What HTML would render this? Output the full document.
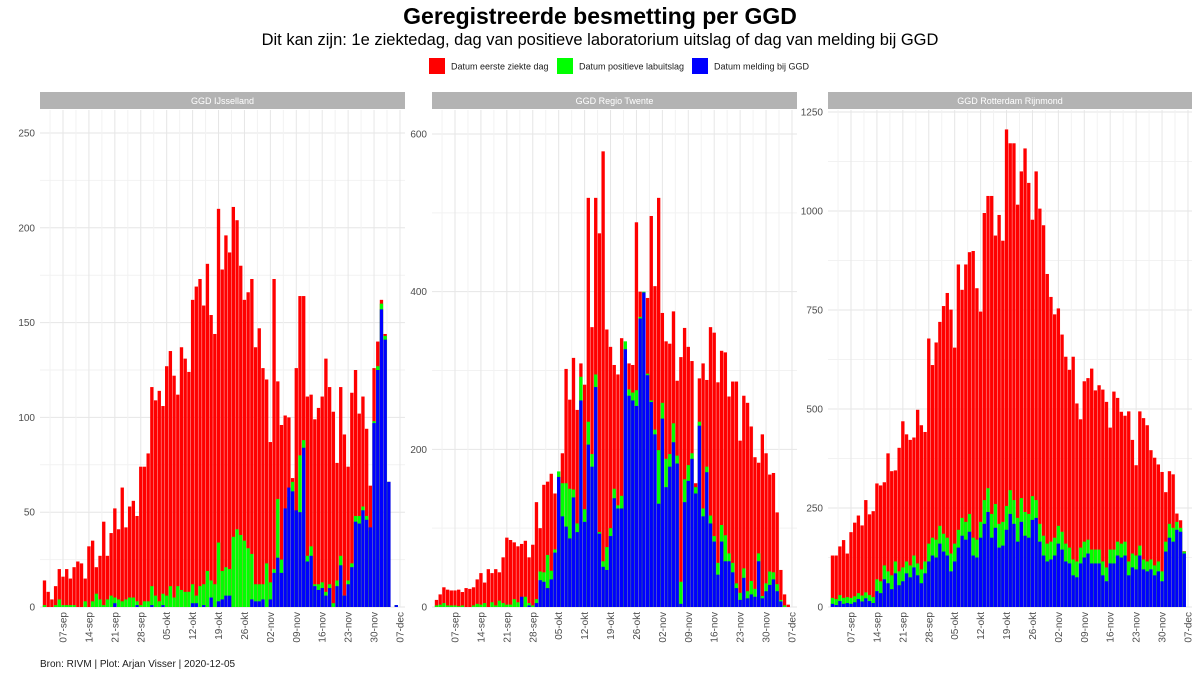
<!DOCTYPE html>
<html><head><meta charset="utf-8">
<style>
html,body{margin:0;padding:0;background:#fff;}
svg{display:block;font-family:"Liberation Sans",Arial,sans-serif;}
</style></head>
<body>
<svg id="chart" width="1200" height="675" viewBox="0 0 1200 675" xmlns="http://www.w3.org/2000/svg">
<rect x="0" y="0" width="1200" height="675" fill="#fff"/>
<text x="600" y="24" text-anchor="middle" font-size="23" font-weight="bold" fill="#000">Geregistreerde besmetting per GGD</text>
<text x="600" y="45" text-anchor="middle" font-size="16.5" fill="#000">Dit kan zijn: 1e ziektedag, dag van positieve laboratorium uitslag of dag van melding bij GGD</text>
<g>
<g><rect x="429" y="58" width="16" height="16" fill="#ff0000"/><text x="451" y="69.5" font-size="9" fill="#1a1a1a">Datum eerste ziekte dag</text></g>
<g><rect x="557" y="58" width="16" height="16" fill="#00ff00"/><text x="579" y="69.5" font-size="9" fill="#1a1a1a">Datum positieve labuitslag</text></g>
<g><rect x="692" y="58" width="16" height="16" fill="#0000ff"/><text x="714" y="69.5" font-size="9" fill="#1a1a1a">Datum melding bij GGD</text></g>
</g>
<text x="40" y="667" font-size="10" fill="#1a1a1a">Bron: RIVM | Plot: Arjan Visser | 2020-12-05</text>
<g id="panels"></g>
</svg>
<script>
// categories: dates 2020-09-02 .. 2020-12-06 (96 days)
var startDate = new Date(Date.UTC(2020, 8, 2));
var categories = [];
for (var k = 0; k < 96; k++) { var d = new Date(startDate.getTime() + k * 86400000); categories.push(d.toISOString().slice(0, 10)); }
var tickLabels = ['07-sep','14-sep','21-sep','28-sep','05-okt','12-okt','19-okt','26-okt','02-nov','09-nov','16-nov','23-nov','30-nov','07-dec'];
var tickDates = ['2020-09-07','2020-09-14','2020-09-21','2020-09-28','2020-10-05','2020-10-12','2020-10-19','2020-10-26','2020-11-02','2020-11-09','2020-11-16','2020-11-23','2020-11-30','2020-12-07'];
var panelNames = ['GGD IJsselland','GGD Regio Twente','GGD Rotterdam Rijnmond'];

var ijsRed = [14,8,4,11,20,16,20,15,21,24,23,15,32,35,21,27,45,27,39,52,41,63,42,53,56,48,74,74,81,116,109,114,106,127,135,122,112,137,131,124,162,169,173,159,181,154,144,
210,178,196,187,211,204,180,162,166,173,137,147,126,120,87,173,119,96,101,100,68,126,164,164,111,112,99,105,111,131,116,103,76,116,91,74,113,125,102,111,94,64,126,140,162,144,66,0,1];
var ijsGreen = [1,0,0,1,4,1,1,1,1,0,0,3,0,3,7,4,1,4,6,5,4,3,4,5,5,3,1,3,3,11,6,3,7,6,11,5,11,9,8,8,12,6,11,12,19,14,12,
34,19,21,20,37,41,38,35,31,28,12,12,12,23,13,20,57,25,21,58,66,49,80,88,27,32,12,12,13,8,12,2,14,27,6,14,23,48,48,53,48,40,98,127,160,143,66,0,1];
var ijsBlue = [0,0,0,0,0,0,0,0,0,0,0,0,0,0,0,0,0,0,0,2,0,0,0,0,0,1,0,0,0,1,0,0,1,0,0,0,0,0,0,0,2,2,0,1,0,5,0,
3,4,6,6,0,0,0,0,0,4,3,3,4,0,4,18,26,18,52,63,61,51,50,84,24,27,11,9,10,6,10,0,11,22,6,12,21,45,44,51,46,42,97,125,157,141,66,0,1];

var twRed = [9,16,25,22,21,21,22,19,24,23,25,35,43,31,48,43,48,44,63,88,85,82,77,80,84,63,79,133,100,155,159,169,144,161,195,302,263,316,250,309,282,519,355,519,474,578,352,330,
307,295,341,316,309,307,488,400,399,392,496,407,519,373,337,334,375,287,317,354,330,312,157,290,309,288,355,348,285,325,323,267,286,286,211,268,259,229,190,183,219,195,168,170,120,47,16,3];
var twGreen = [2,3,5,2,2,2,1,2,0,0,2,4,3,5,0,6,2,8,5,3,3,10,6,4,13,5,2,
10,45,44,66,46,73,172,157,157,150,149,106,292,124,235,194,295,95,58,76,100,
150,129,141,337,276,272,275,368,400,296,262,225,199,259,188,194,233,192,32,162,180,
195,152,235,125,178,116,90,56,104,91,68,56,30,18,49,20,33,23,68,14,30,45,44,29,9,2,0];
var twBlue = [0,0,0,0,0,0,0,0,0,0,0,0,0,0,0,0,0,0,0,0,0,0,0,13,0,2,0,
5,34,32,24,35,69,165,115,102,87,139,95,262,108,206,178,279,93,51,47,90,
138,125,125,327,268,262,255,366,399,294,260,219,131,239,152,178,209,182,4,133,160,
188,144,230,115,171,106,83,41,83,58,58,44,24,9,37,11,16,13,58,11,20,28,35,20,7,0,0];

var rtRed = [130,130,153,169,135,189,213,231,206,270,234,242,312,307,315,388,343,345,402,469,436,422,428,498,459,442,678,611,668,720,760,793,751,655,865,801,865,896,899,805,746,995,1038,1038,938,990,925,1206,1171,1171,1016,1100,1158,1071,978,1100,1006,964,841,783,739,754,688,632,599,632,514,474,570,578,602,547,560,549,518,453,544,528,493,483,494,422,358,494,477,459,396,377,360,341,290,343,335,236,219,141];
var rtGreen = [23,20,30,23,25,23,27,35,29,37,30,25,70,65,105,90,80,115,90,100,115,105,130,110,95,115,160,175,170,205,185,175,135,160,195,225,215,235,175,170,215,270,300,235,260,210,215,255,295,270,225,275,240,235,280,270,210,180,160,165,175,205,190,160,150,120,115,150,165,170,145,145,145,115,100,145,145,165,160,165,115,135,130,155,120,115,120,105,115,90,165,210,200,215,200,140];
var rtBlue = [8,5,15,8,10,8,12,20,14,22,15,10,40,35,70,60,45,85,55,65,85,75,100,80,60,85,115,130,125,160,140,130,90,115,150,180,170,190,130,125,175,210,240,175,200,150,155,195,235,210,165,215,180,175,220,225,165,130,115,120,130,160,145,115,110,80,75,110,125,135,110,110,110,80,65,110,110,130,125,130,80,100,95,130,95,90,95,80,90,65,140,175,165,195,190,135];

var yTicks1 = [0,50,100,150,200,250];
var yTicks2 = [0,200,400,600];
var yTicks3 = [0,250,500,750,1000,1250];

var panels = [
  {name:panelNames[0], slug:'ijsselland', x0:40, x1:405, tick0:63, yTicks:yTicks1, red:ijsRed, green:ijsGreen, blue:ijsBlue},
  {name:panelNames[1], slug:'twente', x0:432, x1:797, tick0:455, yTicks:yTicks2, red:twRed, green:twGreen, blue:twBlue},
  {name:panelNames[2], slug:'rotterdam', x0:828, x1:1192, tick0:851, yTicks:yTicks3, red:rtRed, green:rtGreen, blue:rtBlue}
];
var NS = 'http://www.w3.org/2000/svg';
var root = document.getElementById('panels');
var PX_DAY = 3.703;
var Y0 = 607, YTOP = 110;
function mk(tag, attrs, parent){ var e = document.createElementNS(NS, tag); for (var a in attrs) e.setAttribute(a, attrs[a]); parent.appendChild(e); return e; }
function dayOffset(dateStr){ return (Date.parse(dateStr) - Date.parse('2020-09-07')) / 86400000; }

panels.forEach(function(p){
  var g = mk('g', {}, root);
  
  
  var ymaxVal = p.yTicks[p.yTicks.length-1];
  var yTopTick = { ijsselland:133, twente:134, rotterdam:112 }[p.slug];
  var scaleY = (Y0 - yTopTick) / ymaxVal;
  function yScale(v){ return Y0 - v * scaleY; }
  function xScale(dateStr){ return p.tick0 + dayOffset(dateStr) * PX_DAY; }
  var grid = mk('g', {}, g);
  
  
  var step = p.yTicks[1] - p.yTicks[0];
  for (var v = step/2; yScale(v) > YTOP; v += step/2) {
    var isMajor = (Math.abs(v / step - Math.round(v/step)) < 1e-6);
    mk('line', {x1:p.x0, x2:p.x1, y1:yScale(v), y2:yScale(v), stroke: isMajor ? '#e6e6e6' : '#f2f2f2', 'stroke-width':1}, grid);
  }
  mk('line', {x1:p.x0, x2:p.x1, y1:Y0, y2:Y0, stroke:'#e6e6e6', 'stroke-width':1}, grid);
  tickDates.forEach(function(td, i){
    var x = xScale(td);
    mk('line', {x1:x, x2:x, y1:YTOP, y2:Y0, stroke:'#e6e6e6', 'stroke-width':1}, grid);
    var xm = x - 3.5 * PX_DAY;
    if (xm > p.x0) mk('line', {x1:xm, x2:xm, y1:YTOP, y2:Y0, stroke:'#f2f2f2', 'stroke-width':1}, grid);
  });
  var strip = mk('rect', {x:p.x0, y:92, width:p.x1-p.x0, height:17, fill:'#b3b3b3'}, g);
  
  
  var st = mk('text', {x:(p.x0+p.x1)/2, y:104, 'text-anchor':'middle', 'font-size':9, fill:'#fff'}, g);
  st.textContent = p.name;
  
  
  p.yTicks.forEach(function(t){
    var lab = mk('text', {x:p.x0-5, y:yScale(t)+3.5, 'text-anchor':'end', 'font-size':10, fill:'#4d4d4d'}, g);
    lab.textContent = t;
    
    
  });
  tickDates.forEach(function(td, i){
    var x = xScale(td);
    var lab = mk('text', {x:0, y:0, 'text-anchor':'end', 'font-size':10, fill:'#4d4d4d', transform:'translate(' + (x+3.5) + ',' + 612 + ') rotate(-90)'}, g);
    lab.textContent = tickLabels[i];
    
    
  });
  var series = [['red', p.red, '#ff0000'], ['green', p.green, '#00ff00'], ['blue', p.blue, '#0000ff']];
  series.forEach(function(s){
    var sg = mk('g', {}, g);
    
    
    var vals = s[1];
    for (var i = 0; i < vals.length && i < categories.length; i++) {
      var v = vals[i];
      if (!v) continue;
      var cx = xScale(categories[i]);
      var y = yScale(v);
      var r = mk('rect', {x:cx - PX_DAY*0.45, y:y, width:PX_DAY*0.9, height:Y0 - y, fill:s[2]}, sg);
      
      
    }
  });
});
</script>
</body></html>
